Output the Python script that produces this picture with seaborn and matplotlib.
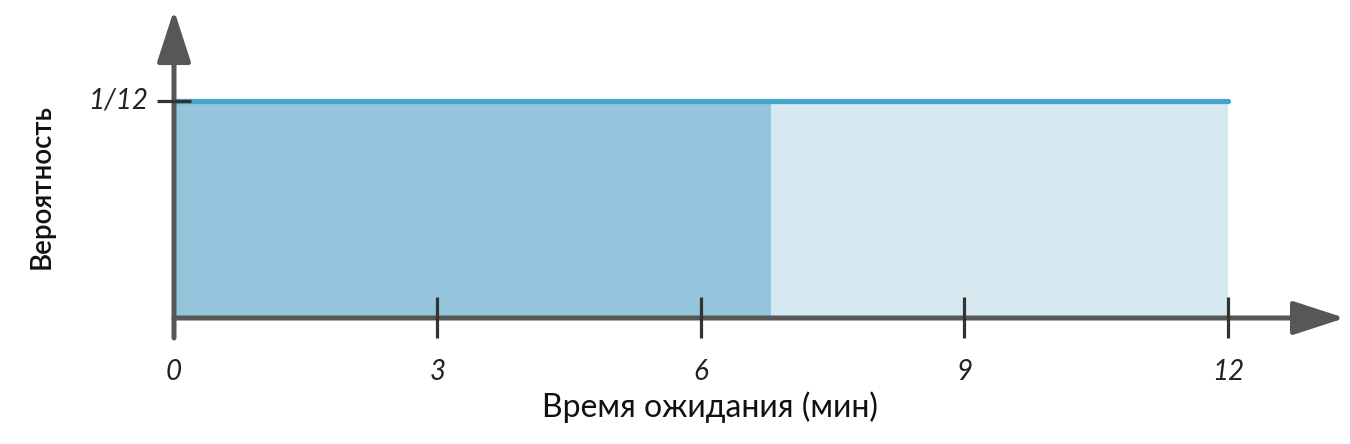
import matplotlib
matplotlib.use('Agg')
import matplotlib.pyplot as plt
import numpy as np
import seaborn as sns
import pandas as pd

# data
x_ticks = [0, 3, 6, 9, 12]
x_tick_labels = ['0', '3', '6', '9', '12']
x_start = 0
x_end = 12
x_split = 6.8            # border between dark and light shading
prob = 1 / 12
y_tick_labels = ['1/12']
x_title = 'Время ожидания (мин)'
y_title = 'Вероятность'

dark_fill = '#93c5dc'
light_fill = '#d6e9f1'
top_line = '#45a6c9'
axis_col = '#575757'
tick_col = '#333333'

sns.set_theme(style='white')
plt.rcParams['font.family'] = ['Lato', 'Noto Sans', 'DejaVu Sans']

fig = plt.figure(figsize=(13.5, 4.44), dpi=100)
ax = fig.add_axes([0, 0, 1, 1])

# pixel mapping: x=0 -> 174px, x=12 -> 1228px ; y=0 -> 318px, y=1/12 -> 101px (from top)
px_per_x = (1228 - 174) / 12
ax.set_xlim(-174 / px_per_x, (1350 - 174) / px_per_x)
px_per_y = (318 - 101) / prob
ax.set_ylim(-(444 - 318) / px_per_y, 318 / px_per_y)

df = pd.DataFrame({'x': [x_start, x_split, x_end], 'p': [prob, prob, prob]})
ax.fill_between(df['x'][:2], 0, df['p'][:2], color=dark_fill, lw=0)
ax.fill_between(df['x'][1:], 0, df['p'][1:], color=light_fill, lw=0)
sns.lineplot(data=df, x='x', y='p', color=top_line, lw=3.8, ax=ax, zorder=3)

# axes lines with arrows
for s in ['top', 'right', 'left', 'bottom']:
    ax.spines[s].set_visible(False)
arrow = dict(arrowstyle='-|>,head_length=0.8,head_width=0.26', color=axis_col,
             lw=3.6, mutation_scale=40, shrinkA=0, shrinkB=0)
ax.annotate('', xy=(1345 / px_per_x - 174 / px_per_x, 0), xytext=(0, 0),
            arrowprops=arrow, zorder=4)
ax.annotate('', xy=(0, (318 - 10) / px_per_y), xytext=(0, -20 / px_per_y),
            arrowprops=arrow, zorder=4)

# tick marks
for xt in x_ticks[1:]:
    ax.plot([xt, xt], [-20 / px_per_y, 21 / px_per_y], color=tick_col, lw=2.3, zorder=5,
            solid_capstyle='butt')
ax.plot([-17 / px_per_x, 17 / px_per_x], [prob, prob], color=tick_col, lw=2.3, zorder=5,
        solid_capstyle='butt')

# tick labels
for xt, lab in zip(x_ticks, x_tick_labels):
    ax.text(xt, -54 / px_per_y, lab, ha='center', va='center', fontsize=20,
            style='italic', color='#222222')
ax.text(-26 / px_per_x, prob, y_tick_labels[0], ha='right', va='center', fontsize=20,
        style='italic', color='#222222')

ax.set_xticks([])
ax.set_yticks([])
ax.set_xlabel('')
ax.set_ylabel('')

fig.text(710 / 1350, 1 - 407 / 444, x_title, ha='center', va='center', fontsize=23,
         color='#111111')
fig.text(42 / 1350, 1 - 187 / 444, y_title, ha='center', va='center', fontsize=20,
         rotation=90, fontweight='semibold', color='#111111')

fig.savefig('out.png', dpi=100)
